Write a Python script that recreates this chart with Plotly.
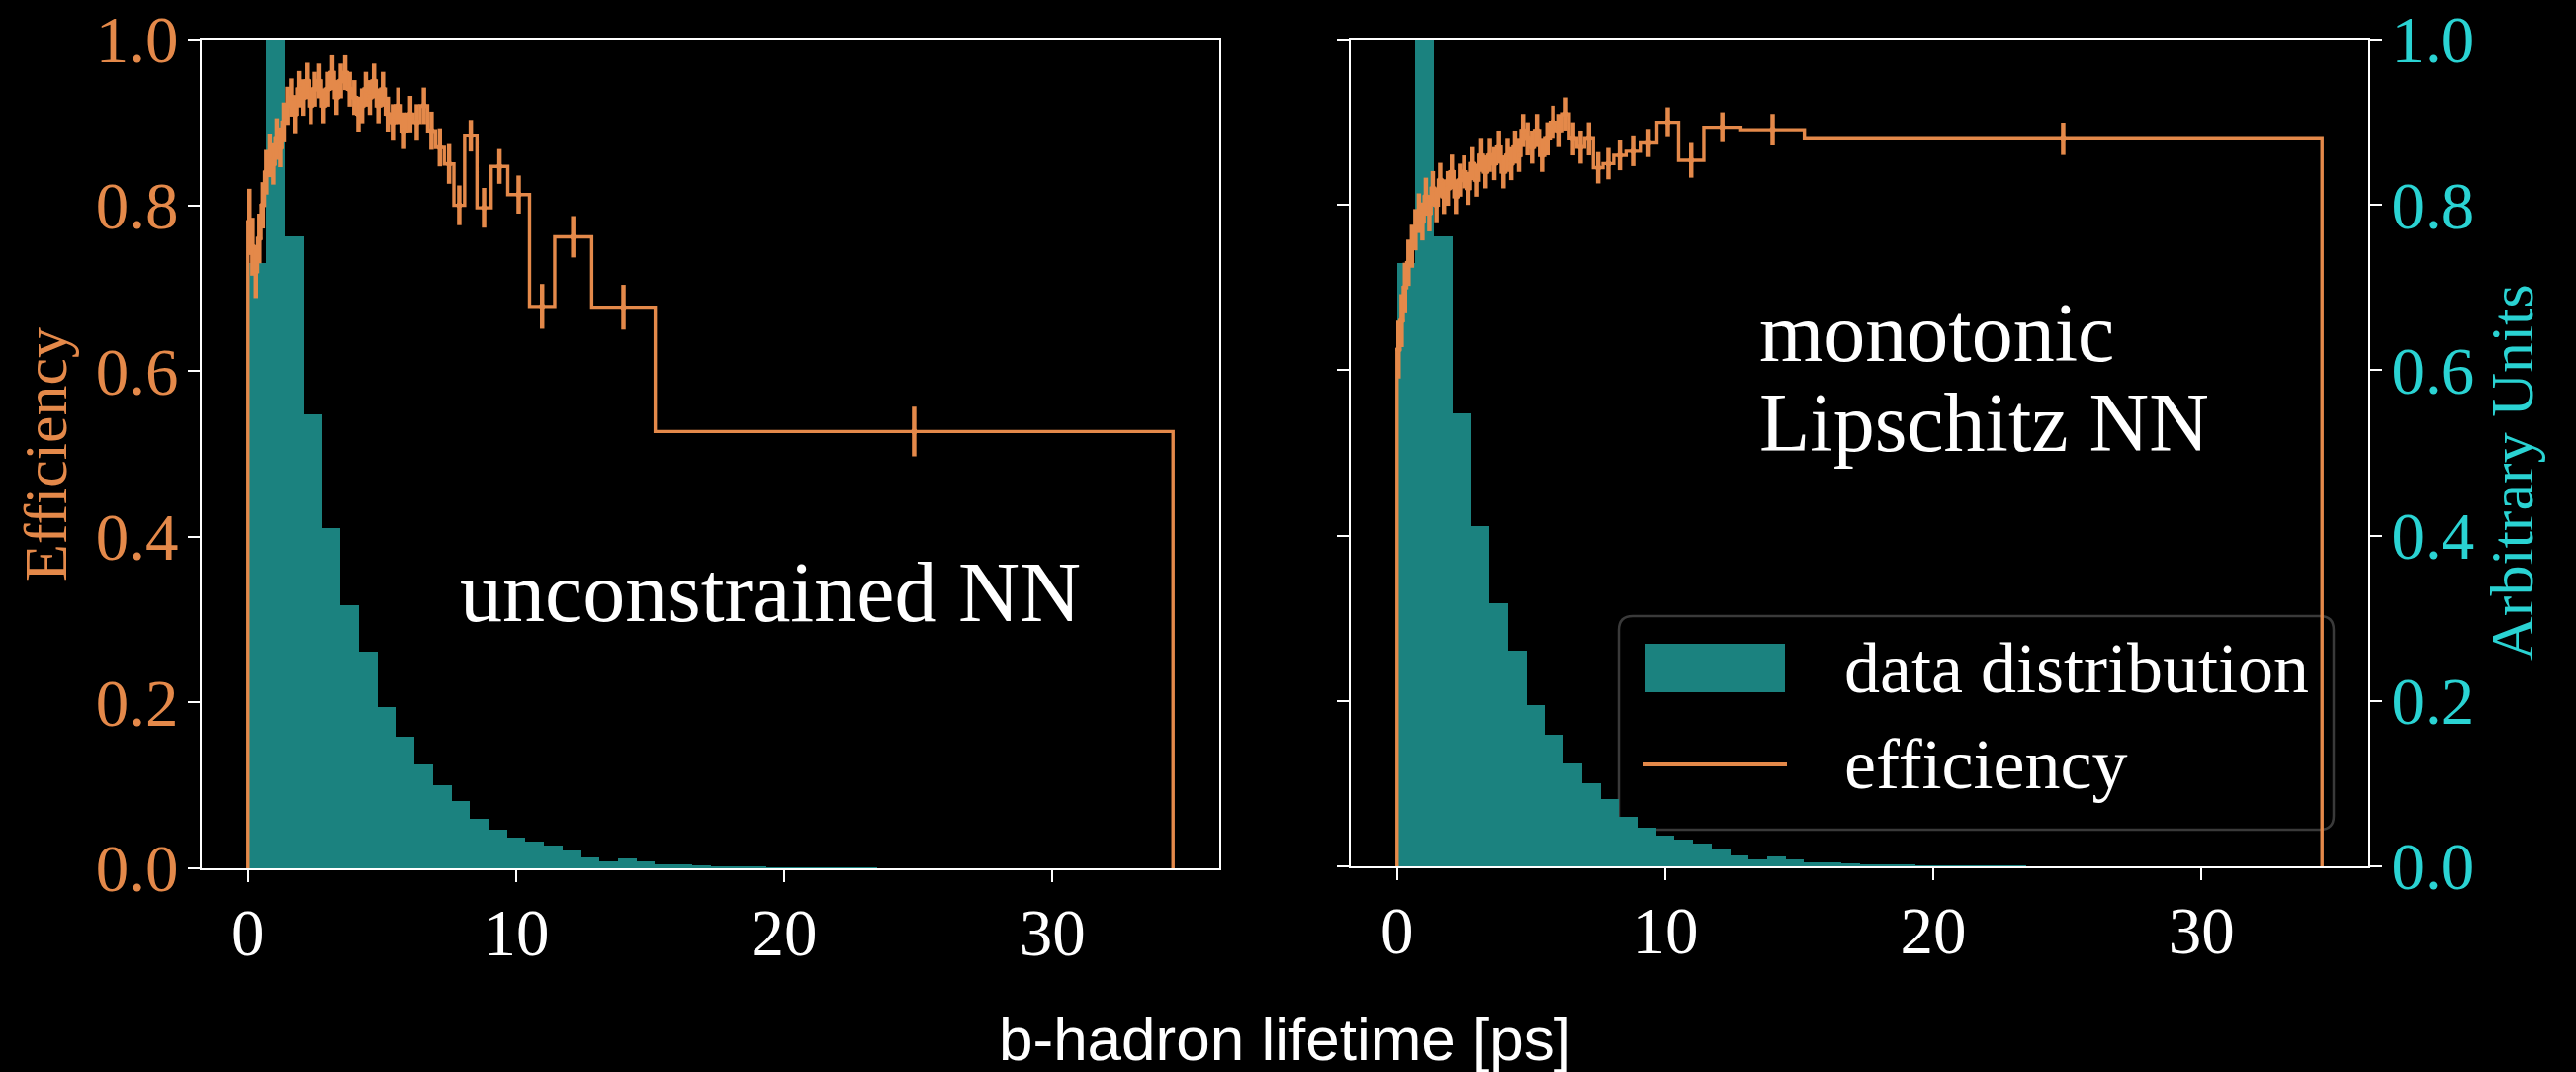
import numpy as np
import plotly.graph_objects as go

W, H = 2605, 1084

# ---------------- data ----------------
# efficiency bin edges (ps), shared by both panels
eff_edges = [0.00, 0.11, 0.23, 0.36, 0.49, 0.62, 0.75, 0.88, 1.01, 1.14,
             1.27, 1.40, 1.54, 1.68, 1.82, 1.97, 2.12, 2.27, 2.42, 2.58,
             2.74, 2.90, 3.06, 3.22, 3.38, 3.54, 3.71, 3.88, 4.05, 4.19,
             4.32, 4.47, 4.62, 4.78, 4.95, 5.12, 5.31, 5.50, 5.71, 5.93,
             6.17, 6.42, 6.70, 6.99, 7.32, 7.68, 8.08, 8.54, 9.07, 9.69,
             10.50, 11.44, 12.82, 15.19, 34.50]

eff_unconstrained = [0.78, 0.75, 0.72, 0.76, 0.80, 0.84, 0.86, 0.85, 0.88, 0.87,
                     0.90, 0.92, 0.93, 0.91, 0.94, 0.93, 0.95, 0.92, 0.94, 0.95,
                     0.92, 0.94, 0.96, 0.93, 0.95, 0.96, 0.94, 0.93, 0.91, 0.92,
                     0.94, 0.93, 0.95, 0.92, 0.94, 0.91, 0.90, 0.92, 0.89, 0.91,
                     0.90, 0.92, 0.89, 0.87, 0.85, 0.80, 0.884, 0.797, 0.847, 0.813,
                     0.678, 0.762, 0.677, 0.527]
err_unconstrained = [0.040, 0.035, 0.032, 0.030, 0.028, 0.027, 0.026, 0.025, 0.025, 0.024,
                     0.024, 0.023, 0.023, 0.023, 0.022, 0.022, 0.022, 0.022, 0.021, 0.021,
                     0.021, 0.021, 0.021, 0.021, 0.021, 0.021, 0.021, 0.021, 0.021, 0.021,
                     0.021, 0.021, 0.021, 0.021, 0.021, 0.021, 0.022, 0.022, 0.022, 0.022,
                     0.022, 0.022, 0.023, 0.023, 0.024, 0.024, 0.019, 0.024, 0.021, 0.023,
                     0.027, 0.025, 0.027, 0.030]

eff_lipschitz = [0.625, 0.66, 0.70, 0.73, 0.75, 0.77, 0.79, 0.78, 0.81, 0.79,
                 0.82, 0.80, 0.83, 0.81, 0.82, 0.84, 0.81, 0.83, 0.84, 0.82,
                 0.85, 0.83, 0.86, 0.84, 0.86, 0.85, 0.87, 0.84, 0.86, 0.85,
                 0.87, 0.86, 0.89, 0.88, 0.87, 0.89, 0.86, 0.88, 0.90, 0.89,
                 0.91, 0.88, 0.87, 0.88, 0.845, 0.85, 0.86, 0.865, 0.875, 0.900,
                 0.854, 0.894, 0.891, 0.880]
err_lipschitz = [0.035, 0.032, 0.030, 0.028, 0.026, 0.025, 0.024, 0.023, 0.023, 0.022,
                 0.021, 0.021, 0.021, 0.021, 0.021, 0.021, 0.021, 0.020, 0.020, 0.020,
                 0.020, 0.020, 0.020, 0.020, 0.020, 0.020, 0.020, 0.020, 0.020, 0.020,
                 0.020, 0.020, 0.020, 0.020, 0.020, 0.020, 0.020, 0.020, 0.020, 0.020,
                 0.020, 0.020, 0.020, 0.020, 0.019, 0.019, 0.018, 0.018, 0.017, 0.018,
                 0.021, 0.018, 0.019, 0.0195]

# data distribution histogram (arbitrary units), 50 equal bins on [0, 34.5]
hist_range = (0.0, 34.5)
hist_values = [0.730, 1.050, 0.762, 0.548, 0.411, 0.318, 0.261, 0.195, 0.159, 0.125,
               0.100, 0.081, 0.060, 0.047, 0.037, 0.032, 0.027, 0.022, 0.0135, 0.0083,
               0.0115, 0.0083, 0.0050, 0.0048, 0.0030, 0.0024, 0.0020, 0.0020, 0.0010, 0.0008,
               0.0005, 0.0003, 0.0002, 0.0001, 0, 0, 0, 0, 0, 0,
               0, 0, 0, 0, 0, 0, 0, 0, 0, 0]

x_ticks = [0, 10, 20, 30]
y_ticks = [0.0, 0.2, 0.4, 0.6, 0.8, 1.0]
y_ticktext = ["0.0", "0.2", "0.4", "0.6", "0.8", "1.0"]

panel_labels = ["unconstrained NN", "monotonic", "Lipschitz NN"]
legend_labels = ["data distribution", "efficiency"]

# ---------------- styling ----------------
ORANGE = "#E4894A"
TEAL = "#1B827F"
CYAN = "#2AD3D3"
SERIF = "Liberation Serif"
SANS = "Liberation Sans"
TICK_SIZE = 67


def px(x):
    return x / W


def py(y):
    return 1 - y / H


hist_edges = np.linspace(hist_range[0], hist_range[1], len(hist_values) + 1)
hist_centers = 0.5 * (hist_edges[:-1] + hist_edges[1:])
hist_width = hist_edges[1] - hist_edges[0]

edges = np.array(eff_edges)
centers = 0.5 * (edges[:-1] + edges[1:])


def step_xy(vals):
    xs = [edges[0]] + list(edges) + [edges[-1]]
    ys = [0] + list(vals) + [vals[-1], 0]
    return xs, ys


fig = go.Figure()

panels = [
    dict(x="x", ybar="y", yeff="y2", eff=eff_unconstrained, err=err_unconstrained),
    dict(x="x2", ybar="y3", yeff="y4", eff=eff_lipschitz, err=err_lipschitz),
]
for p in panels:
    fig.add_trace(go.Bar(x=hist_centers, y=hist_values, width=hist_width,
                         marker=dict(color=TEAL, line=dict(width=0)),
                         xaxis=p["x"], yaxis=p["ybar"], showlegend=False,
                         name=legend_labels[0]))
    sx, sy = step_xy(p["eff"])
    fig.add_trace(go.Scatter(x=sx, y=sy, mode="lines", line=dict(shape="hv", color=ORANGE, width=3.4),
                             xaxis=p["x"], yaxis=p["yeff"], showlegend=False, name=legend_labels[1]))
    fig.add_trace(go.Scatter(x=centers, y=p["eff"], mode="markers",
                             marker=dict(size=0, color=ORANGE),
                             error_y=dict(type="data", array=p["err"], width=0, thickness=4.5, color=ORANGE),
                             xaxis=p["x"], yaxis=p["yeff"], showlegend=False, hoverinfo="skip"))

axis_common = dict(showgrid=False, zeroline=False, showline=True, linecolor="white", linewidth=2,
                   ticks="outside", ticklen=12, tickwidth=2, tickcolor="white",
                   ticklabeloverflow="allow")
xrange_ = [-1.725, 36.225]

left_dom = [px(204), px(1233)]
right_dom = [px(1366), px(2395)]
left_ydom = [py(878), py(40)]
right_ydom = [py(876), py(40)]

fig.update_layout(
    width=W, height=H,
    margin=dict(l=0, r=0, t=0, b=0),
    paper_bgcolor="black", plot_bgcolor="rgba(0,0,0,0)",
    bargap=0, showlegend=False,
    xaxis=dict(domain=left_dom, range=xrange_, anchor="y", mirror=True, tickvals=x_ticks,
               tickfont=dict(family=SERIF, size=TICK_SIZE, color="white"), ticklabelstandoff=-6,
               automargin=False, **axis_common),
    yaxis=dict(domain=left_ydom, range=[0, 1], anchor="x", side="right", showticklabels=False,
               showgrid=False, zeroline=False, showline=True, linecolor="white", linewidth=2, ticks="",
               automargin=False),
    yaxis2=dict(overlaying="y", range=[0, 1], anchor="x", side="left", tickvals=y_ticks, ticktext=y_ticktext,
                tickfont=dict(family=SERIF, size=TICK_SIZE, color=ORANGE), ticklabelstandoff=-4,
                automargin=False, **axis_common),
    xaxis2=dict(domain=right_dom, range=xrange_, anchor="y3", mirror=True, tickvals=x_ticks,
                tickfont=dict(family=SERIF, size=TICK_SIZE, color="white"), ticklabelstandoff=-6,
                automargin=False, **axis_common),
    yaxis3=dict(domain=right_ydom, range=[0, 1], anchor="x2", side="right", tickvals=y_ticks,
                ticktext=y_ticktext, tickfont=dict(family=SERIF, size=TICK_SIZE, color=CYAN),
                ticklabelstandoff=-4, automargin=False, **axis_common),
    yaxis4=dict(overlaying="y3", range=[0, 1], anchor="x2", side="left", tickvals=y_ticks,
                showticklabels=False, automargin=False, **axis_common),
)


# legend (drawn manually, matplotlib-style)
def rounded_rect(x0, y0, x1, y1, r):
    rx, ry = r / W, r / H
    X0, X1 = px(x0), px(x1)
    Y0, Y1 = py(y1), py(y0)  # bottom, top in paper
    return (f"M {X0+rx},{Y0} L {X1-rx},{Y0} Q {X1},{Y0} {X1},{Y0+ry} "
            f"L {X1},{Y1-ry} Q {X1},{Y1} {X1-rx},{Y1} L {X0+rx},{Y1} Q {X0},{Y1} {X0},{Y1-ry} "
            f"L {X0},{Y0+ry} Q {X0},{Y0} {X0+rx},{Y0} Z")


shapes = [
    dict(type="path", xref="paper", yref="paper", path=rounded_rect(1637, 623, 2360, 839, 14),
         fillcolor="rgba(0,0,0,0.85)", line=dict(color="#3a3a3a", width=2.5), layer="below"),
    dict(type="rect", xref="paper", yref="paper", x0=px(1664), x1=px(1805), y0=py(700), y1=py(651),
         fillcolor=TEAL, line=dict(width=0), layer="above"),
    dict(type="line", xref="paper", yref="paper", x0=px(1662), x1=px(1807), y0=py(773), y1=py(773),
         line=dict(color=ORANGE, width=4), layer="above"),
]
fig.update_layout(shapes=shapes)

annotations = [
    dict(text=panel_labels[0], x=px(779), y=py(599), xanchor="center", yanchor="middle",
         font=dict(family=SERIF, size=86, color="white")),
    dict(text=panel_labels[1], x=px(1777), y=py(336), xanchor="left", yanchor="middle",
         font=dict(family=SERIF, size=84, color="white")),
    dict(text=panel_labels[2], x=px(1777), y=py(427), xanchor="left", yanchor="middle",
         font=dict(family=SERIF, size=84, color="white")),
    dict(text=legend_labels[0], x=px(1863), y=py(676), xanchor="left", yanchor="middle",
         font=dict(family=SERIF, size=72, color="white")),
    dict(text=legend_labels[1], x=px(1863), y=py(773), xanchor="left", yanchor="middle",
         font=dict(family=SERIF, size=72, color="white")),
    dict(text="Efficiency", x=px(46), y=py(460), xanchor="center", yanchor="middle", textangle=-90,
         font=dict(family=SERIF, size=62, color=ORANGE)),
    dict(text="Arbitrary Units", x=px(2540), y=py(478), xanchor="center", yanchor="middle", textangle=-90,
         font=dict(family=SERIF, size=62, color=CYAN)),
    dict(text="b-hadron lifetime [ps]", x=px(1299), y=py(1050), xanchor="center", yanchor="middle",
         font=dict(family=SANS, size=62, color="white")),
]
for a in annotations:
    a.update(xref="paper", yref="paper", showarrow=False)
fig.update_layout(annotations=annotations)

fig.write_html(
    "out.html",
    config={"displayModeBar": False},
    post_script="document.body.style.margin='0';document.body.style.background='black';"
                "document.documentElement.style.background='black';",
)
